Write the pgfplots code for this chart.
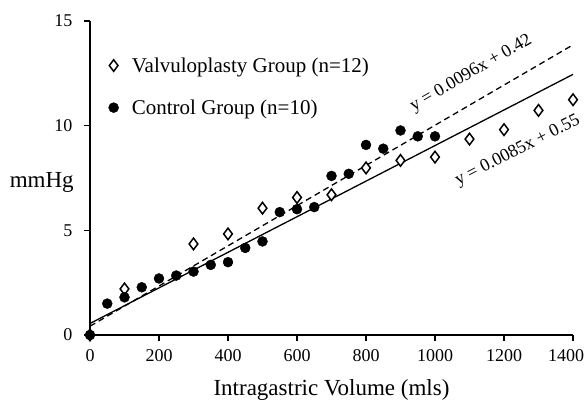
\documentclass[border=0pt]{standalone}
\usepackage{pgfplots}
\pgfplotsset{compat=1.18}
\usepackage{fontspec}
\setmainfont{Liberation Serif}
\newcommand{\tickfont}{\fontsize{18}{20}\selectfont}
\begin{document}
\begin{tikzpicture}[x=1pt,y=1pt]
\path[use as bounding box] (0,0) rectangle (585,401);
\begin{axis}[
    at={(90pt,66pt)}, anchor=south west,
    scale only axis,
    width=483pt, height=314pt,
    xmin=0, xmax=1400, ymin=0, ymax=15,
    axis lines*=left,
    axis line style={-, line width=2.4pt},
    xtick={0,200,...,1400},
    xticklabels={0,200,400,600,800,1000,1200,{\hspace*{-14pt}1400}},
    ytick={0,5,10,15},
    yticklabels={0,5,10,15},
    tick align=outside,
    major tick length=6pt,
    tick style={line width=1.6pt, black},
    minor tick num=0,
    /pgf/number format/assume math mode=true,
    /pgf/number format/1000 sep={},
    xticklabel style={font=\tickfont, yshift=-5pt},
    yticklabel style={font=\tickfont, xshift=-8pt},
    xlabel={Intragastric Volume (mls)},
    xlabel style={font=\fontsize{23}{26}\selectfont, at={(axis description cs:0.5,-0.175)}, anchor=center},
    ylabel={mmHg},
    ylabel style={font=\fontsize{23}{26}\selectfont, rotate=-90, at={(axis description cs:-0.1,0.487)}, anchor=center},
    legend style={draw=none, fill=none, at={(axis description cs:0.032,0.897)}, anchor=north west,
        font=\fontsize{21}{24}\selectfont, row sep=22pt, cells={anchor=west}},
    legend image code/.code={\draw[#1] plot coordinates {(0pt,0pt)}; \path (0pt,0pt) (16pt,0pt);},
    legend cell align=left,
    clip=false,
]
% regression lines
\addplot[black, line width=1.3pt, dash pattern=on 6pt off 4pt, forget plot]
    coordinates {(0,0.42) (1400,13.86)};
\addplot[black, line width=1.3pt, forget plot]
    coordinates {(0,0.55) (1400,12.45)};

% valvuloplasty group
\addplot[only marks, mark=diamond*, mark size=5.8pt, mark options={fill=white, draw=black, line width=1.5pt}]
    coordinates {
        (0,0) (100,2.2) (300,4.35) (400,4.83) (500,6.06) (600,6.57)
        (700,6.7) (800,7.98) (900,8.34) (1000,8.5) (1100,9.36)
        (1200,9.81) (1300,10.73) (1400,11.24)
    };
\addlegendentry{Valvuloplasty Group (n=12)}

% control group
\addplot[only marks, mark=*, mark size=5pt, mark options={fill=black, draw=black}]
    coordinates {
        (0,0) (50,1.5) (100,1.8) (150,2.28) (200,2.7) (250,2.84)
        (300,3.03) (350,3.35) (400,3.48) (450,4.16) (500,4.47)
        (550,5.87) (600,6.01) (650,6.11) (700,7.6) (750,7.7)
        (800,9.08) (850,8.9) (900,9.77) (950,9.49) (1000,9.49)
    };
\addlegendentry{Control Group (n=10)}

\node[rotate=30, font=\fontsize{18}{20}\selectfont] at (axis cs:1105,12.5) {y = 0.0096x + 0.42};
\node[rotate=27, font=\fontsize{18}{20}\selectfont] at (axis cs:1240,8.8) {y = 0.0085x + 0.55};
\end{axis}
\end{tikzpicture}
\end{document}
